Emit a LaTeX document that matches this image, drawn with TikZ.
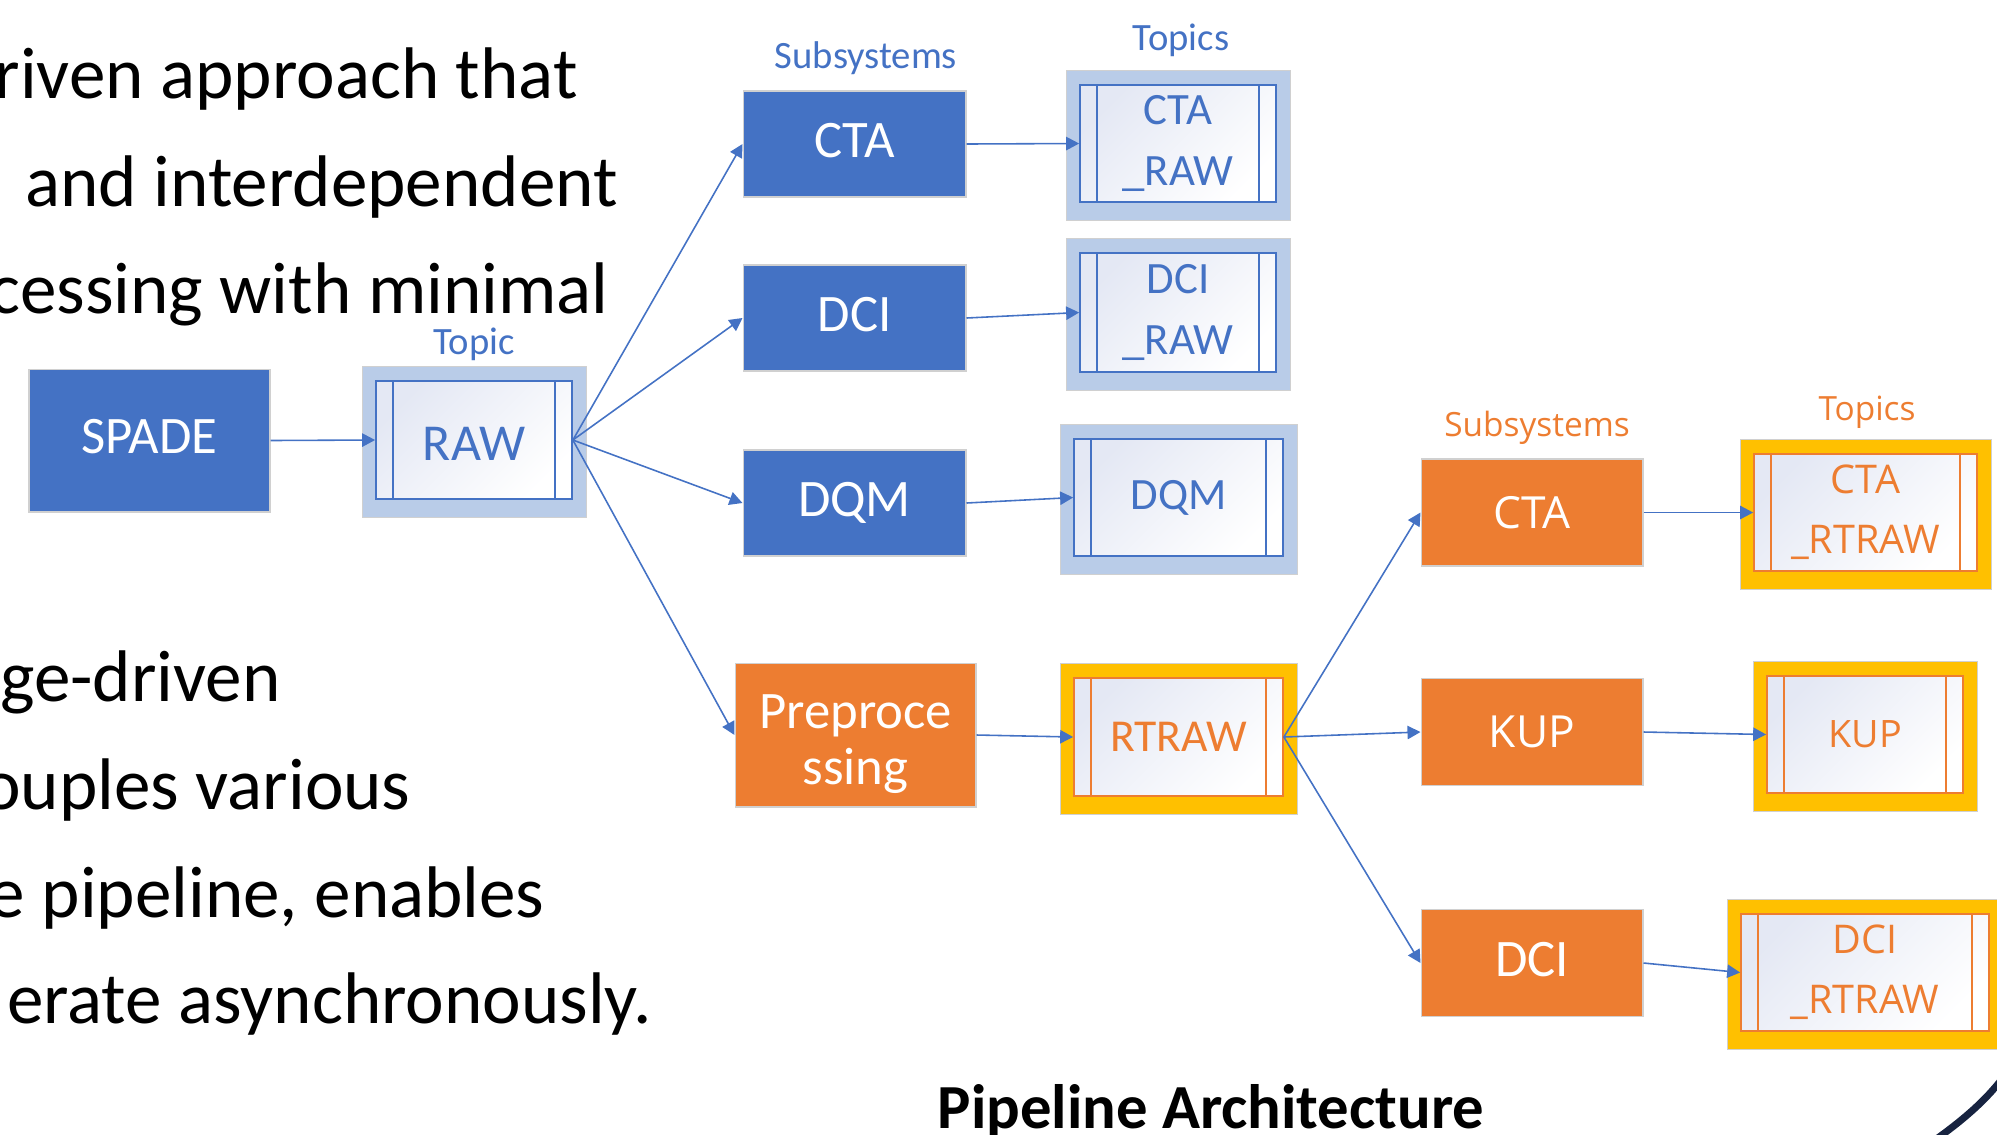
\documentclass[tikz,border=0pt]{standalone}
\usepackage{fontspec}
\setmainfont{Carlito}
\newfontfamily\segoe{Open Sans}
\usetikzlibrary{arrows.meta,backgrounds}

\definecolor{boxblue}{HTML}{4472C4}
\definecolor{boxorange}{HTML}{ED7D31}
\definecolor{linkblue}{HTML}{4472C4}
\definecolor{paleblue}{HTML}{B9CCE8}
\definecolor{amber}{HTML}{FFC000}
\definecolor{tint}{HTML}{E4E8F4}
\definecolor{edgegray}{HTML}{D0D0D0}
\definecolor{navy}{HTML}{172340}

\newcommand{\fsz}[2]{\fontsize{#1pt}{#2pt}\selectfont}

% topic container: outer frame, inner queue box with two side bars
% #1 kind, #2 name, #3 centre, #4 width, #5 height, #6 text options, #7 text
\newcommand{\topicbox}[7]{%
  \node[topicin#1, minimum width=#4, minimum height=#5, #6] (#2) at #3 {#7};
  \begin{scope}[on background layer]
    \path[topicout#1] ([shift={(-13,-14)}]#2.north west) rectangle ([shift={(14,18)}]#2.south east);
  \end{scope}
  \draw[topicbar#1] ([xshift=0.36cm]#2.north west) -- ([xshift=0.36cm]#2.south west)
                    ([xshift=-0.36cm]#2.north east) -- ([xshift=-0.36cm]#2.south east);
}

\begin{document}
\begin{tikzpicture}[x=0.02cm, y=-0.02cm,
  bluebox/.style={fill=boxblue, draw=edgegray, line width=0.6pt, text=white,
    font=\fsz{30}{32}, text height=22.5pt, text depth=7.5pt, inner sep=0pt},
  orangebox/.style={fill=boxorange, draw=edgegray, line width=0.6pt, text=white, inner sep=0pt},
  topicinB/.style={draw=boxblue, line width=1pt, top color=tint, bottom color=white,
    shading angle=45, text=boxblue, inner sep=0pt, align=center},
  topicinO/.style={draw=boxorange, line width=1pt, top color=tint, bottom color=white,
    shading angle=45, text=boxorange, inner sep=0pt, align=center},
  topicoutB/.style={fill=paleblue, draw=edgegray, line width=0.5pt},
  topicoutO/.style={fill=amber, draw=edgegray, line width=0.5pt},
  topicbarB/.style={draw=boxblue, line width=1pt},
  topicbarO/.style={draw=boxorange, line width=1pt},
  link/.style={draw=linkblue, line width=0.9pt, -{Triangle[length=7.4pt, width=7.6pt]}},
  bluelabel/.style={text=boxblue, font=\fsz{22}{26}, anchor=base, inner sep=0pt},
  orangelabel/.style={text=boxorange, font=\segoe\fsz{19}{23}, anchor=base, inner sep=0pt},
  bodytext/.style={font=\fsz{41.6}{48}, anchor=base east, inner sep=0pt}]

\useasboundingbox (0,0) rectangle (1997,1134);
\clip (0,0) rectangle (1997,1134);

% explanatory text, running in from the left edge
\node[bodytext] (t1) at (578,98)   {riven approach that};
\node[bodytext] (t2) at (618,206)  {and interdependent};
\node[bodytext] (t3) at (609,313)  {cessing with minimal};
\node[bodytext] (t4) at (281,701)  {ge-driven};
\node[bodytext] (t5) at (411,809)  {ouples various};
\node[bodytext] (t6) at (545,917)  {e pipeline, enables};
\node[bodytext] (t7) at (652,1023) {erate asynchronously.};

% column headings
\node[bluelabel] (hTopic) at (474,354) {Topic};
\node[bluelabel] (hSub1) at (866,68) {Subsystems};
\node[bluelabel] (hTop1) at (1181,50) {Topics};
\node[orangelabel] (hSub2) at (1537,436) {Subsystems};
\node[orangelabel] (hTop2) at (1867,420) {Topics};

% source and raw stage
\node[bluebox, minimum width=4.82cm, minimum height=2.86cm] (spade) at (149.5,440.5) {SPADE};
\topicbox{B}{raw}{(474,440)}{3.92cm}{2.36cm}{font=\fsz{29.5}{34}, text height=24pt, text depth=0.4pt}{RAW}

\node[bluebox, minimum width=4.46cm, minimum height=2.12cm] (cta) at (854.5,144) {CTA};
\node[bluebox, minimum width=4.46cm, minimum height=2.12cm] (dci) at (854.5,318) {DCI};
\node[bluebox, minimum width=4.46cm, minimum height=2.12cm] (dqm) at (854.5,503) {DQM};
\node[orangebox, minimum width=4.82cm, minimum height=2.88cm] (pre) at (855.5,735) {};
\node[text=white, font=\fsz{30}{31.5}, align=center, inner sep=0pt] (preText) at ([yshift=-0.18cm]pre.center) {Preproce\\ssing};

\topicbox{B}{ctaraw}{(1178,143.5)}{3.92cm}{2.34cm}{font=\fsz{25.5}{34.6}}{CTA\\\_RAW}
\topicbox{B}{dciraw}{(1178,312.5)}{3.92cm}{2.38cm}{font=\fsz{25.5}{34.6}}{DCI\\\_RAW}
\topicbox{B}{dqmraw}{(1178.5,497.5)}{4.18cm}{2.34cm}{font=\fsz{25.5}{30}}{DQM}
\topicbox{O}{rtraw}{(1178.5,737)}{4.18cm}{2.36cm}{font=\fsz{26}{30}}{RTRAW}

% real-time subsystems
\node[orangebox, font=\segoe\fsz{25.2}{30}, minimum width=4.44cm, minimum height=2.14cm] (octa) at (1532,512.5) {CTA};
\node[orangebox, font=\segoe\fsz{25.2}{30}, minimum width=4.44cm, minimum height=2.14cm] (kup) at (1532,732) {KUP};
\node[orangebox, font=\fsz{30}{32}, text height=22.5pt, text depth=7.5pt, minimum width=4.44cm, minimum height=2.14cm] (odci) at (1532,963) {DCI};

\topicbox{O}{ctartraw}{(1865.5,512.5)}{4.46cm}{2.34cm}{font=\segoe\fsz{22.5}{34}}{CTA\\\_RTRAW}
\topicbox{O}{kuptopic}{(1865,734.5)}{3.92cm}{2.34cm}{font=\segoe\fsz{21.5}{26}}{KUP}
\topicbox{O}{dcirtraw}{(1865,972.5)}{4.96cm}{2.34cm}{font=\segoe\fsz{22.5}{34}}{DCI\\\_RTRAW}

% message flow
\draw[link] (spade.east) -- (raw.west);
\draw[link] (raw.east) -- (cta.west);
\draw[link] (raw.east) -- (dci.west);
\draw[link] (raw.east) -- (dqm.west);
\draw[link] (raw.east) -- (pre.west);
\draw[link] (cta.east) -- (ctaraw.west);
\draw[link] (dci.east) -- (dciraw.west);
\draw[link] (dqm.east) -- (dqmraw.west);
\draw[link] (pre.east) -- (rtraw.west);
\draw[link] (rtraw.east) -- (octa.west);
\draw[link] (rtraw.east) -- (kup.west);
\draw[link] (rtraw.east) -- (odci.west);
\draw[link] (octa.east) -- (ctartraw.west);
\draw[link] (kup.east) -- (kuptopic.west);
\draw[link] (odci.east) -- (dcirtraw.west);

% caption
\node[font=\bfseries\fsz{35.7}{40}, anchor=base, inner sep=0pt] (caption) at (1211,1128) {Pipeline Architecture};

% corner ornament
\draw[navy, line width=4pt] (1935,1140) .. controls (1960,1122) and (1985,1102) .. (2005,1075);

\end{tikzpicture}
\end{document}
